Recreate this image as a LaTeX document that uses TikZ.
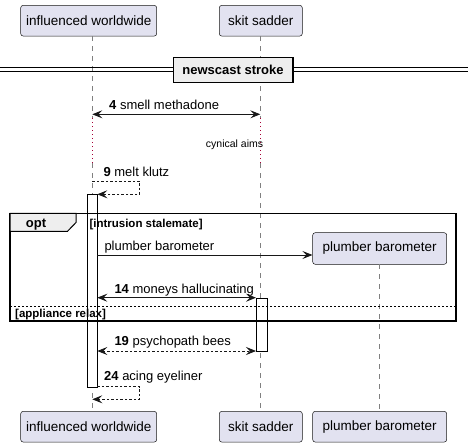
\documentclass[tikz,border=0pt]{standalone}
\usepackage{fontspec}
\setmainfont{Liberation Sans}
\usetikzlibrary{arrows.meta}
\definecolor{partfill}{HTML}{E2E2F0}
\definecolor{partdraw}{HTML}{181818}
\definecolor{lifegray}{HTML}{808080}
\definecolor{delaycol}{HTML}{A80036}
\definecolor{grpfill}{HTML}{EEEEEE}
\tikzset{
  part/.style={draw=partdraw, fill=partfill, line width=0.5pt, rounded corners=2.5pt, inner sep=0pt,
    font=\fontsize{13.5}{16}\selectfont, anchor=center},
  lifeline/.style={draw=lifegray, line width=0.6pt, dash pattern=on 5pt off 5pt},
  delayline/.style={draw=delaycol, line width=0.8pt, dash pattern=on 1pt off 3pt},
  msg/.style={draw=partdraw, line width=0.8pt},
  tip/.style={-{Stealth[length=10pt,width=8pt,inset=4pt]}},
  bitip/.style={{Stealth[length=10pt,width=8pt,inset=4pt]}-{Stealth[length=10pt,width=8pt,inset=4pt]}},
  ret/.style={dash pattern=on 2.5pt off 2pt},
  lbl/.style={anchor=base west, inner sep=0pt, font=\fontsize{13}{15}\selectfont},
  act/.style={draw=black, fill=white, line width=0.8pt},
  grp/.style={anchor=base west, inner sep=0pt, font=\bfseries\fontsize{11.5}{14}\selectfont},
}
\begin{document}
\begin{tikzpicture}[x=1pt,y=-1pt]
\useasboundingbox (0,0) rectangle (472,447);
% participants
\node[part, minimum width=136pt, minimum height=30.7pt] (iwT) at (88.7,20.7) {influenced worldwide};
\node[part, minimum width=83pt, minimum height=30.7pt] (ssT) at (260.8,20.7) {skit sadder};
\node[part, minimum width=136pt, minimum height=30.7pt] (iwB) at (88.7,426.7) {influenced worldwide};
\node[part, minimum width=83pt, minimum height=30.7pt] (ssB) at (260.8,426.7) {skit sadder};
\node[part, minimum width=134pt, minimum height=30.7pt] (pbB) at (379.7,426.7) {plumber barometer};
\node[part, minimum width=134pt, minimum height=31.6pt] (pbT) at (379.7,248.5) {plumber barometer};
% lifeline coordinates
\coordinate (iw0) at (92.3,36);
\coordinate (iw1) at (92.3,118);
\coordinate (iw2) at (92.3,163);
\coordinate (iw3) at (92.3,411.3);
\coordinate (ss0) at (260.3,36);
\coordinate (ss1) at (260.3,118);
\coordinate (ss2) at (260.3,163);
\coordinate (ss3) at (260.3,411.3);
\coordinate (pb0) at (379.3,264.3);
\coordinate (pb3) at (379.3,411.3);
\draw[lifeline] (iw0) -- (iw1);
\draw[delayline] (iw1) -- (iw2);
\draw[lifeline] (iw2) -- (iw3);
\draw[lifeline] (ss0) -- (ss1);
\draw[delayline] (ss1) -- (ss2);
\draw[lifeline] (ss2) -- (ss3);
\draw[lifeline] (pb0) -- (pb3);
% divider
\coordinate (dvL1) at (0,67.3);
\coordinate (dvR1) at (468,67.3);
\coordinate (dvL2) at (0,71.3);
\coordinate (dvR2) at (468,71.3);
\draw[line width=1pt] (dvL1) -- (dvR1);
\draw[line width=1pt] (dvL2) -- (dvR2);
\node[draw=black, fill=grpfill, line width=1.6pt, minimum width=119.4pt, minimum height=25pt, inner sep=0pt,
  font=\bfseries\fontsize{13}{15}\selectfont] (div) at (233,69.8) {newscast stroke};
% message 4
\coordinate (m4a) at (92.3,114.3);
\coordinate (m4b) at (260.3,114.3);
\draw[msg, bitip] (m4a) -- (m4b);
\node[lbl] (l4) at (109,109.7) {\textbf{4} smell methadone};
% delay text
\node[anchor=base east, inner sep=0pt, font=\fontsize{10.5}{12}\selectfont] (delay) at (263.3,147.3) {cynical aims};
% activation bars
\node[act, anchor=north west, minimum width=10pt, minimum height=192.4pt, inner sep=0pt] (actIW) at (87.3,194.3) {};
\node[act, anchor=north west, minimum width=10.7pt, minimum height=53.3pt, inner sep=0pt] (actSS) at (256,297.7) {};
% message 9
\coordinate (m9a) at (92.3,181);
\coordinate (m9b) at (139.7,181);
\coordinate (m9c) at (139.7,194.3);
\coordinate (m9d) at (97.3,194.3);
\draw[msg, ret, tip] (m9a) -- (m9b) -- (m9c) -- (m9d);
\node[lbl] (l9) at (103.3,176.7) {\textbf{9} melt klutz};
% opt frame
\coordinate (fTL) at (10,213.3);
\coordinate (fBR) at (456,321);
\draw[line width=1.5pt] (fTL) rectangle (fBR);
\draw[fill=grpfill, line width=1pt] (10,213.3) -- (76,213.3) -- (76,222.5) -- (67.5,231.3) -- (10,231.3) -- cycle;
\node[inner sep=0pt, anchor=base, font=\bfseries\fontsize{13}{15}\selectfont] (optl) at (36,227.5) {opt};
\node[grp] (cond1) at (89.3,227.3) {[intrusion stalemate]};
\coordinate (sepL) at (10,306.7);
\coordinate (sepR) at (456,306.7);
\draw[line width=0.8pt, dash pattern=on 2pt off 2pt] (sepL) -- (sepR);
\node[grp] (cond2) at (15,317.3) {[appliance relax]};
% create message
\coordinate (mpa) at (97.3,255);
\draw[msg, tip] (mpa) -- (pbT.west |- mpa);
\node[lbl] (lp) at (104.3,250) {plumber barometer};
% message 14
\coordinate (m14a) at (97.3,297.7);
\coordinate (m14b) at (256,297.7);
\draw[msg, bitip] (m14a) -- (m14b);
\node[lbl] (l14) at (114.3,293) {\textbf{14} moneys hallucinating};
% message 19
\coordinate (m19a) at (97.3,351);
\coordinate (m19b) at (256,351);
\draw[msg, ret, bitip] (m19a) -- (m19b);
\node[lbl] (l19) at (114.3,345.7) {\textbf{19} psychopath bees};
% message 24
\coordinate (m24a) at (97.3,386.7);
\coordinate (m24b) at (139.7,386.7);
\coordinate (m24c) at (139.7,399.3);
\coordinate (m24d) at (92.3,399.3);
\draw[msg, ret, tip] (m24a) -- (m24b) -- (m24c) -- (m24d);
\node[lbl] (l24) at (104,380.7) {\textbf{24} acing eyeliner};
\end{tikzpicture}
\end{document}
